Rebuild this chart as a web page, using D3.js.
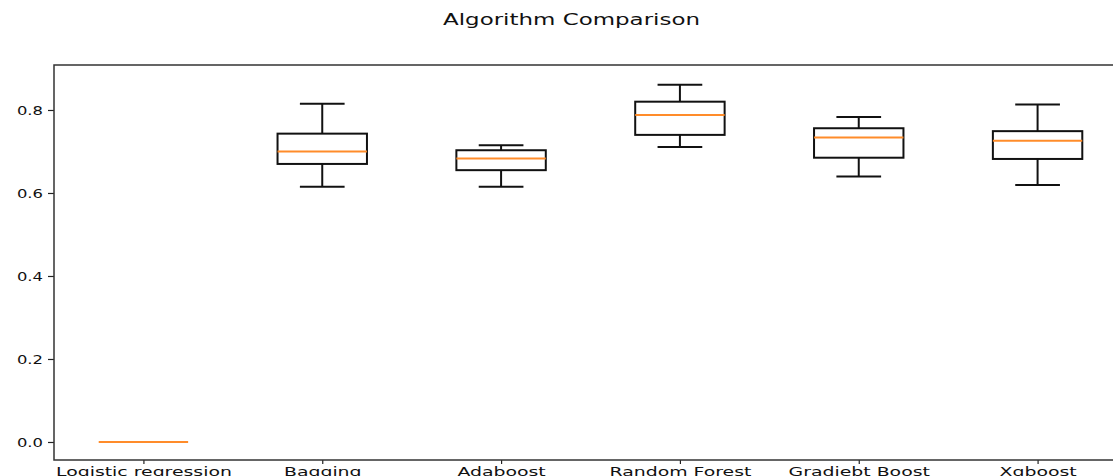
<!DOCTYPE html>
<html>
<head>
<meta charset="utf-8">
<script src="https://cdn.jsdelivr.net/npm/d3@7"></script>
<style>
  body { margin: 0; background: #fff; }
  svg { display: block; overflow: hidden; }
</style>
</head>
<body>
<script>
// values
var algorithms  = ["Logistic regression", "Bagging", "Adaboost", "Random Forest", "Gradiebt Boost", "Xgboost"];
var whiskerLow  = [0, 0.615, 0.615, 0.711, 0.640, 0.619];
var q1          = [0, 0.670, 0.655, 0.740, 0.685, 0.682];
var median      = [0, 0.700, 0.683, 0.788, 0.734, 0.726];
var q3          = [0, 0.743, 0.703, 0.820, 0.756, 0.749];
var whiskerHigh = [0, 0.815, 0.715, 0.861, 0.783, 0.813];
var yTicks      = [0, 0.2, 0.4, 0.6, 0.8];

var width = 1113, height = 476;
var plotLeft = 54, plotRight = 1127, plotTop = 65, plotBottom = 460;
var xStretch = 1.45, yStretch = 1.26; // the picture is squeezed wider than normal

var svg = d3.select("body").append("svg")
            .attr("width", width)
            .attr("height", height);

var x = d3.scalePoint()
          .domain(algorithms)
          .range([plotLeft, plotRight])
          .padding(0.5);

var y = d3.scaleLinear()
          .domain([-0.0434, 0.9084])
          .range([plotBottom, plotTop]);

var boxW = x.step() * 0.5;

var boxes = algorithms.map(function (name, i) {
  return { name: name, lo: whiskerLow[i], q1: q1[i], med: median[i], q3: q3[i], hi: whiskerHigh[i] };
});

// title
svg.append("text")
   .attr("x", 571.5)
   .attr("y", 25)
   .attr("text-anchor", "middle")
   .attr("font-family", "DejaVu Sans")
   .attr("font-size", 15)
   .attr("fill", "#111")
   .attr("textLength", 257)
   .attr("lengthAdjust", "spacingAndGlyphs")
   .text("Algorithm Comparison");

// axes
var xAxis = svg.append("g")
               .attr("transform", "translate(0," + plotBottom + ")")
               .call(d3.axisBottom(x).tickSize(4).tickPadding(3).tickSizeOuter(0));

var yAxis = svg.append("g")
               .attr("transform", "translate(" + plotLeft + ",0)")
               .call(d3.axisLeft(y).tickValues(yTicks).tickFormat(d3.format(".1f"))
                                   .tickSize(6).tickPadding(5).tickSizeOuter(0));

[[xAxis, xStretch], [yAxis, yStretch]].forEach(function (a) {
  var ax = a[0], k = a[1];
  ax.select(".domain").remove();
  ax.selectAll("line").attr("stroke", "#222").attr("stroke-width", 1.2);
  ax.selectAll("text")
    .attr("font-family", "DejaVu Sans")
    .attr("font-size", 13)
    .attr("fill", "#111")
    .each(function () {
      var len = this.getComputedTextLength();
      d3.select(this).attr("textLength", len * k).attr("lengthAdjust", "spacingAndGlyphs");
    });
});

// frame
svg.append("rect")
   .attr("x", plotLeft)
   .attr("y", plotTop)
   .attr("width", plotRight - plotLeft)
   .attr("height", plotBottom - plotTop)
   .attr("fill", "none")
   .attr("stroke", "#333")
   .attr("stroke-width", 1.5);

var g = svg.selectAll("g.box")
           .data(boxes)
           .enter()
           .append("g")
           .attr("class", "box");

// box
g.append("rect")
 .attr("x", function (d) { return x(d.name) - boxW / 2; })
 .attr("y", function (d) { return y(d.q3); })
 .attr("width", boxW)
 .attr("height", function (d) { return y(d.q1) - y(d.q3); })
 .attr("fill", "none")
 .attr("stroke", "#111")
 .attr("stroke-width", 2);

// whiskers
g.append("line")
 .attr("x1", function (d) { return x(d.name); })
 .attr("x2", function (d) { return x(d.name); })
 .attr("y1", function (d) { return y(d.q3); })
 .attr("y2", function (d) { return y(d.hi); })
 .attr("stroke", "#111").attr("stroke-width", 2);

g.append("line")
 .attr("x1", function (d) { return x(d.name); })
 .attr("x2", function (d) { return x(d.name); })
 .attr("y1", function (d) { return y(d.q1); })
 .attr("y2", function (d) { return y(d.lo); })
 .attr("stroke", "#111").attr("stroke-width", 2);

// caps
["hi", "lo"].forEach(function (k) {
  g.append("line")
   .attr("x1", function (d) { return x(d.name) - boxW / 4; })
   .attr("x2", function (d) { return x(d.name) + boxW / 4; })
   .attr("y1", function (d) { return y(d[k]); })
   .attr("y2", function (d) { return y(d[k]); })
   .attr("stroke", "#111").attr("stroke-width", 2);
});

// medians
g.append("line")
 .attr("x1", function (d) { return x(d.name) - boxW / 2; })
 .attr("x2", function (d) { return x(d.name) + boxW / 2; })
 .attr("y1", function (d) { return y(d.med); })
 .attr("y2", function (d) { return y(d.med); })
 .attr("stroke", "#ff8c2a").attr("stroke-width", 2);
</script>
</body>
</html>
